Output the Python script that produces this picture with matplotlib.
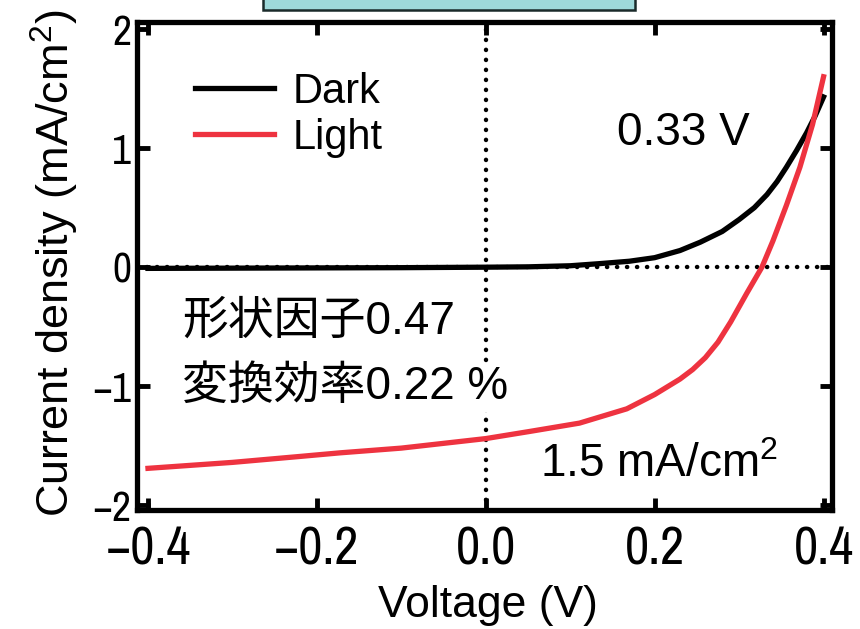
import matplotlib
matplotlib.use("Agg")
import matplotlib.pyplot as plt
from matplotlib import font_manager
from matplotlib.patches import Rectangle

# J-V data (current density in mA/cm2)
v_dark = [-0.40, -0.30, -0.20, -0.10, 0.00, 0.05, 0.10, 0.135, 0.17, 0.20, 0.23, 0.254,
          0.28, 0.30, 0.318, 0.333, 0.345, 0.356, 0.368, 0.38, 0.39, 0.40]
j_dark = [-0.01, -0.008, -0.006, -0.004, 0.0, 0.003, 0.012, 0.03, 0.05, 0.08, 0.14, 0.21,
          0.30, 0.40, 0.50, 0.61, 0.72, 0.84, 0.98, 1.13, 1.27, 1.43]

v_light = [-0.40, -0.30, -0.22, -0.173, -0.10, 0.00, 0.052, 0.111, 0.167, 0.20, 0.23,
           0.245, 0.26, 0.275, 0.29, 0.309, 0.327, 0.34, 0.356, 0.372, 0.387, 0.40]
j_light = [-1.69, -1.64, -1.59, -1.56, -1.52, -1.44, -1.38, -1.31, -1.19, -1.07, -0.94,
           -0.86, -0.76, -0.63, -0.46, -0.22, 0.0, 0.22, 0.52, 0.84, 1.20, 1.60]

x_ticks = [-0.4, -0.2, 0.0, 0.2, 0.4]
x_ticklabels = ["\u22120.4", "\u22120.2", "0.0", "0.2", "0.4"]
y_ticks = [-2, -1, 0, 1, 2]
y_ticklabels = ["\u22122", "\u22121", "0", "1", "2"]

voc_text = "0.33 V"
ff_text = "形状因子0.47"
eff_text = "変換効率0.22 %"
jsc_text = "1.5 mA/cm$^2$"


def condensed_family():
    # pick a narrow sans face for the tick numbers if one is installed
    for f in font_manager.fontManager.ttflist:
        if ("Narrow" in f.name or "Condensed" in f.name) and "Mono" not in f.name:
            return f.name
    for f in font_manager.fontManager.ttflist:
        if f.stretch in ("condensed", "semi-condensed") and "Mono" not in f.name:
            return f.name
    return None


narrow = condensed_family()
latin_jp = ["Liberation Sans", "Noto Sans CJK JP", "DejaVu Sans"]

plt.rcParams["font.family"] = latin_jp
plt.rcParams["mathtext.fontset"] = "custom"
plt.rcParams["mathtext.rm"] = "Liberation Sans"
plt.rcParams["mathtext.it"] = "Liberation Sans"

red = "#ee3340"

fig = plt.figure(figsize=(8.6, 6.29), dpi=100)
ax = fig.add_axes([137 / 860, 1 - 510 / 629, 695 / 860, 488 / 629])

# reference lines through the origin
ax.axhline(0, color="black", lw=3.2, ls=(0, (0.05, 2.2)), dash_capstyle="round", zorder=1)
ax.axvline(0, color="black", lw=3.2, ls=(0, (0.05, 2.2)), dash_capstyle="round", zorder=1)

ax.plot(v_dark, j_dark, color="black", lw=3.8, label="Dark", zorder=3)
ax.plot(v_light, j_light, color=red, lw=3.8, label="Light", zorder=3)

ax.set_xlim(-0.413, 0.41)
ax.set_ylim(-2.04, 2.06)

ax.set_xticks(x_ticks)
ax.set_yticks(y_ticks)
if narrow:
    ax.set_xticklabels(x_ticklabels, family=narrow, fontsize=38)
    ax.set_yticklabels(y_ticklabels, family=narrow, fontsize=30)
else:
    ax.set_xticklabels(x_ticklabels, fontsize=31)
    ax.set_yticklabels(y_ticklabels, fontsize=27)
ax.tick_params(direction="in", length=9, width=3.5, top=True, right=True)
ax.tick_params(axis="x", pad=11)
ax.tick_params(axis="y", pad=4)
for s in ax.spines.values():
    s.set_linewidth(3.8)

fig.text(488 / 860, 1 - 606 / 629, "Voltage (V)", ha="center", va="center", fontsize=32)
fig.text(55 / 860, 1 - 263 / 629, "Current density (mA/cm$^2$)", rotation=90,
         ha="center", va="center", fontsize=32.5)

ax.legend(loc="upper left", bbox_to_anchor=(0.083, 0.898), frameon=False, fontsize=30,
          handlelength=1.9, handletextpad=0.45, labelspacing=0.15, borderpad=0,
          borderaxespad=0)

ax.text(0.155, 1.13, voc_text, ha="left", va="center", fontsize=33)
ax.text(-0.359, -0.46, ff_text, ha="left", va="center", fontsize=33, zorder=4,
        bbox=dict(facecolor="white", edgecolor="none", pad=1))
ax.text(-0.36, -1.01, eff_text, ha="left", va="center", fontsize=33, zorder=4,
        bbox=dict(facecolor="white", edgecolor="none", pad=2))
ax.text(0.064, -1.66, jsc_text, ha="left", va="center", fontsize=33)

# bottom of the caption box above the plot
fig.patches.append(Rectangle((263 / 860, 1 - 10 / 629), 372 / 860, 0.05,
                             transform=fig.transFigure, facecolor="#9ed9da",
                             edgecolor="#1a2a2a", lw=1.8))

fig.savefig("out.png", dpi=100)
